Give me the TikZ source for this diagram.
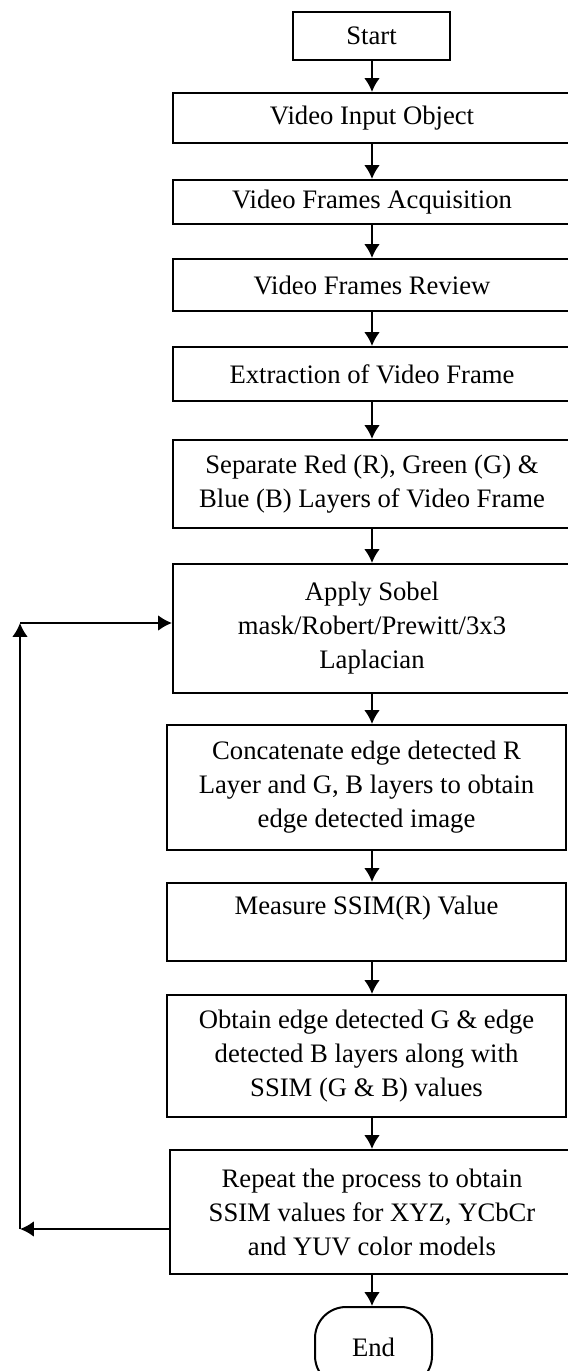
\documentclass[tikz,border=0pt]{standalone}
\usepackage{fontspec}
\setmainfont{Liberation Serif}
\usetikzlibrary{arrows.meta,positioning,calc}

\begin{document}
\begin{tikzpicture}[x=0.45pt,y=-0.45pt,>={Latex[length=6.2pt,width=7pt]},
 font=\fontsize{12}{15.3}\selectfont,line width=0.9pt,
 box/.style={draw,align=center,inner sep=0pt,minimum width=179.1pt}]
 \useasboundingbox (0,0) rectangle (567,1371);
 \coordinate (col) at (372,0);
 \node[box,minimum width=70.65pt,minimum height=21.6pt] (start) at (371.5,36) {Start};
 \node[box,minimum height=22.5pt] (input) at (372,118) {Video Input Object};
 \node[box,minimum height=19.8pt] (acquire) at (372,202) {Video Frames Acquisition};
 \node[box,minimum height=23.4pt] (review) at (372,285) {Video Frames Review};
 \node[box,minimum height=24.3pt] (extract) at (372,374) {Extraction of Video Frame};
 \node[box,minimum height=39.6pt] (separate) at (372,484) {Separate Red (R), Green (G) \&\\Blue (B) Layers of Video Frame};
 \node[box,minimum height=58.05pt] (sobel) at (372,628.5) {Apply Sobel\\mask/Robert/Prewitt/3x3\\Laplacian};
 \node[box,minimum width=179.55pt,minimum height=56.25pt] (concat) at (366.5,787.5) {Concatenate edge detected R\\Layer and G, B layers to obtain\\edge detected image};
 \node[box,minimum width=179.55pt,minimum height=35.1pt] (measure) at (366.5,922) {Measure SSIM(R) Value\\\mbox{}};
 \node[box,minimum width=179.55pt,minimum height=54.9pt] (obtain) at (366.5,1056) {Obtain edge detected G \& edge\\detected B layers along with\\SSIM (G \& B) values};
 \node[box,minimum width=181.8pt,minimum height=55.8pt] (again) at (372,1212) {Repeat the process to obtain\\SSIM values for XYZ, YCbCr\\and YUV color models};
 \node[box,rounded corners=14pt,minimum width=52.65pt,minimum height=36pt] (stop) at (373.5,1347) {End};
 \foreach \a/\b in {start/input,input/acquire,acquire/review,review/extract,extract/separate,
  separate/sobel,sobel/concat,concat/measure,measure/obtain,obtain/again,again/stop}
  \draw[->] (col |- \a.south) -- (col |- \b.north);
 \coordinate (loopbot) at (20,1229);
 \coordinate (looptop) at (20,623);
 \draw[->] (again.west |- loopbot) -- (loopbot);
 \draw[->] (loopbot) -- (looptop);
 \draw[->] (looptop) -- (sobel.west |- looptop);
\end{tikzpicture}
\end{document}
